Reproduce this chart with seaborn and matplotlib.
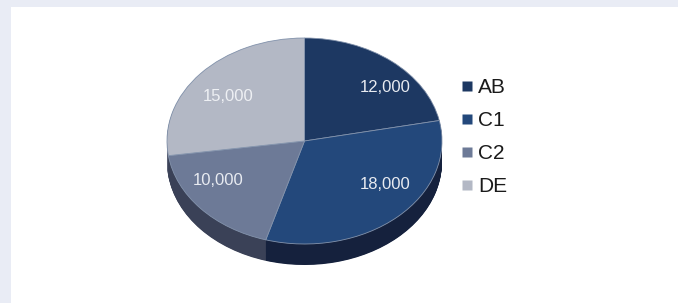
import numpy as np
import matplotlib
matplotlib.use("Agg")
import matplotlib.pyplot as plt
from matplotlib.patches import Rectangle
from matplotlib.lines import Line2D
import seaborn as sns

# ---- data ----
categories = ["AB", "C1", "C2", "DE"]
values = [12000, 18000, 10000, 15000]
top_colors = ["#1d3862", "#23487b", "#6d7a97", "#b3b8c5"]
side_colors = ["#14223f", "#15213d", "#3a4157", "#5a6074"]
label_colors = ["#e8ebf1", "#e8ebf1", "#e8ebf1", "#eef0f4"]
# small pixel nudges of the value labels (dx right, dy down)
label_nudge_px = [(15, 7), (10, -14), (-7, -12), (3, 7)]

sns.set_theme(style="white")
plt.rcParams["font.family"] = ["Liberation Sans", "DejaVu Sans"]

W, H = 678, 303
fig = plt.figure(figsize=(W / 100, H / 100), dpi=100)
fig.patch.set_facecolor("#e9ecf5")
fig.add_artist(Rectangle((11 / W, 0), 1 - 11 / W, (H - 7) / H,
                         transform=fig.transFigure, facecolor="white",
                         edgecolor="none", zorder=0))

ax = fig.add_axes([0, 0, 1, 1])
ax.patch.set_alpha(0)

cx, cy, rx, ry = 304.5, 141.0, 137.5, 103.0
depth = 21.0 / ry
total = sum(values)

# side (extrusion) made of stacked pies
for k in np.linspace(depth, 0.004, 40):
    ax.pie(values, colors=side_colors, startangle=90, counterclock=False,
           center=(0, -k), radius=1, wedgeprops=dict(linewidth=0))

wedges, texts, autotexts = ax.pie(
    values, colors=top_colors, startangle=90, counterclock=False,
    center=(0, 0), radius=1,
    autopct=lambda p: f"{p * total / 100:,.0f}", pctdistance=0.76,
    wedgeprops=dict(linewidth=0.6, edgecolor="#8494ad"),
    textprops=dict(fontsize=12))
for t, c, (dx, dy) in zip(autotexts, label_colors, label_nudge_px):
    t.set_color(c)
    x, y = t.get_position()
    t.set_position((x + dx / rx, y - dy / ry))

ax.set_aspect("auto")
ax.set_xlim(-cx / rx, (W - cx) / rx)
ax.set_ylim((cy - H) / ry, cy / ry)
ax.axis("off")

handles = [Line2D([], [], marker="s", linestyle="", markersize=6.5,
                  markerfacecolor=c, markeredgecolor="none") for c in top_colors]
leg = ax.legend(handles, categories, loc="upper left",
                bbox_to_anchor=(451 / W, 1 - 68 / H),
                bbox_transform=fig.transFigure, frameon=False,
                fontsize=15, labelspacing=0.67, handlelength=0.55,
                handletextpad=0.25, borderpad=0)
for t in leg.get_texts():
    t.set_color("#1a1a1a")

fig.savefig("out.png", dpi=100)
